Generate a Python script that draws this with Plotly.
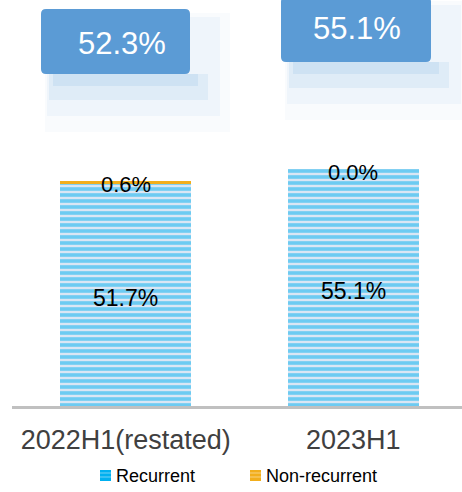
import plotly.graph_objects as go

# Share of earnings, split into recurrent and non-recurrent parts
categories = ["2022H1(restated)", "2023H1"]
recurrent = [51.7, 55.1]
non_recurrent = [0.6, 0.0]
totals = [52.3, 55.1]

W, H = 462, 492
L, B = 12, 86           # plot-area margins in pixels
PLOT_H = H - B          # plot area spans from the top edge down to the axis
PX_PER_UNIT = 4.3
Y_MAX = PLOT_H / PX_PER_UNIT
X_SPAN = (W - L) / 227.5

FONT = "Liberation Sans, Arial, sans-serif"
BLUE = "#00B0F0"
LIGHT = "#DAE6F4"
ORANGE = "#F2AE1C"
BOX = "#5B9BD5"


def px(x):
    return (x - L) / (W - L)


def py(y):
    return (PLOT_H - y) / PLOT_H


def rounded_rect(x0, y0, x1, y1, r):
    X0, X1 = px(x0), px(x1)
    Y0, Y1 = py(y0), py(y1)
    rx = r / (W - L)
    ry = r / PLOT_H
    return (f"M{X0 + rx},{Y0} L{X1 - rx},{Y0} Q{X1},{Y0} {X1},{Y0 - ry} "
            f"L{X1},{Y1 + ry} Q{X1},{Y1} {X1 - rx},{Y1} L{X0 + rx},{Y1} "
            f"Q{X0},{Y1} {X0},{Y1 + ry} L{X0},{Y0 - ry} Q{X0},{Y0} {X0 + rx},{Y0} Z")


fig = go.Figure()
fig.add_trace(go.Bar(
    x=categories, y=recurrent, name="Recurrent", width=0.576,
    marker=dict(color=LIGHT, line=dict(width=0),
                pattern=dict(shape="-", fgcolor=BLUE, bgcolor=LIGHT,
                             size=6, solidity=0.6, fillmode="overlay")),
    showlegend=False,
))
fig.add_trace(go.Bar(
    x=categories, y=non_recurrent, name="Non-recurrent", width=0.576,
    marker=dict(color=ORANGE, line=dict(width=0)),
    showlegend=False,
))

annotations = []
shapes = []

# value labels inside the bars and at their tops
for i, cat in enumerate(categories):
    annotations.append(dict(x=cat, y=recurrent[i] / 2, text=f"{recurrent[i]:.1f}%",
                            showarrow=False, font=dict(family=FONT, size=23, color="#000000"),
                            yshift=-3))
    annotations.append(dict(x=cat, y=totals[i], text=f"{non_recurrent[i]:.1f}%",
                            showarrow=False, font=dict(family=FONT, size=22, color="#000000"),
                            yshift=-3))

# callout boxes with the totals, with a soft haze underneath
boxes = [(41, 9, 190, 74), (281, -3, 431, 62)]
text_centers = [(122, 43.5), (357, 28)]
for (x0, y0, x1, y1), (tx, ty), total in zip(boxes, text_centers, totals):
    haze = [
        (x0 + 4, x1 + 40, y0 + 4, y1 + 58, 0.04),
        (x0 + 6, x1 + 30, y0 + 8, y1 + 42, 0.06),
        (x0 + 8, x1 + 18, y1, y1 + 26, 0.10),
        (x0 + 12, x1 + 8, y1, y1 + 12, 0.12),
    ]
    for hx0, hx1, hy0, hy1, op in haze:
        shapes.append(dict(type="rect", xref="paper", yref="paper",
                           x0=px(hx0), x1=px(hx1), y0=py(hy1), y1=py(hy0),
                           fillcolor=f"rgba(91,155,213,{op})", line=dict(width=0), layer="below"))
    shapes.append(dict(type="path", xref="paper", yref="paper",
                       path=rounded_rect(x0, y0, x1, y1, 5),
                       fillcolor=BOX, line=dict(width=0)))
    annotations.append(dict(xref="paper", yref="paper", x=px(tx), y=py(ty),
                            xanchor="center", yanchor="middle",
                            text=f"{total:.1f}%", showarrow=False,
                            font=dict(family=FONT, size=31, color="#FFFFFF")))

# legend drawn below the category labels
legend_items = [("Recurrent", BLUE, 100), ("Non-recurrent", ORANGE, 250)]
for label, color, x0 in legend_items:
    shapes.append(dict(type="rect", xref="paper", yref="paper",
                       x0=px(x0), x1=px(x0 + 11), y0=py(481), y1=py(470),
                       fillcolor=color, line=dict(width=0)))
    for sy in (473, 477):
        shapes.append(dict(type="line", xref="paper", yref="paper",
                           x0=px(x0), x1=px(x0 + 11), y0=py(sy), y1=py(sy),
                           line=dict(color="rgba(255,255,255,0.45)", width=1)))
    annotations.append(dict(xref="paper", yref="paper", x=px(x0 + 14), y=py(476),
                            xanchor="left", yanchor="middle", text=label, showarrow=False,
                            font=dict(family=FONT, size=18, color="#000000")))

fig.update_layout(
    width=W, height=H,
    margin=dict(l=L, r=0, t=0, b=B, pad=0),
    barmode="stack",
    paper_bgcolor="#FFFFFF", plot_bgcolor="#FFFFFF",
    xaxis=dict(range=[-0.5, -0.5 + X_SPAN], showline=True, linecolor="#C0C0C0", linewidth=3,
               showgrid=False, ticks="", ticklabelstandoff=8,
               tickfont=dict(family=FONT, size=27, color="#404040")),
    yaxis=dict(range=[0, Y_MAX], visible=False, showgrid=False, zeroline=False),
    annotations=annotations, shapes=shapes,
)

fig.write_html("out.html")
